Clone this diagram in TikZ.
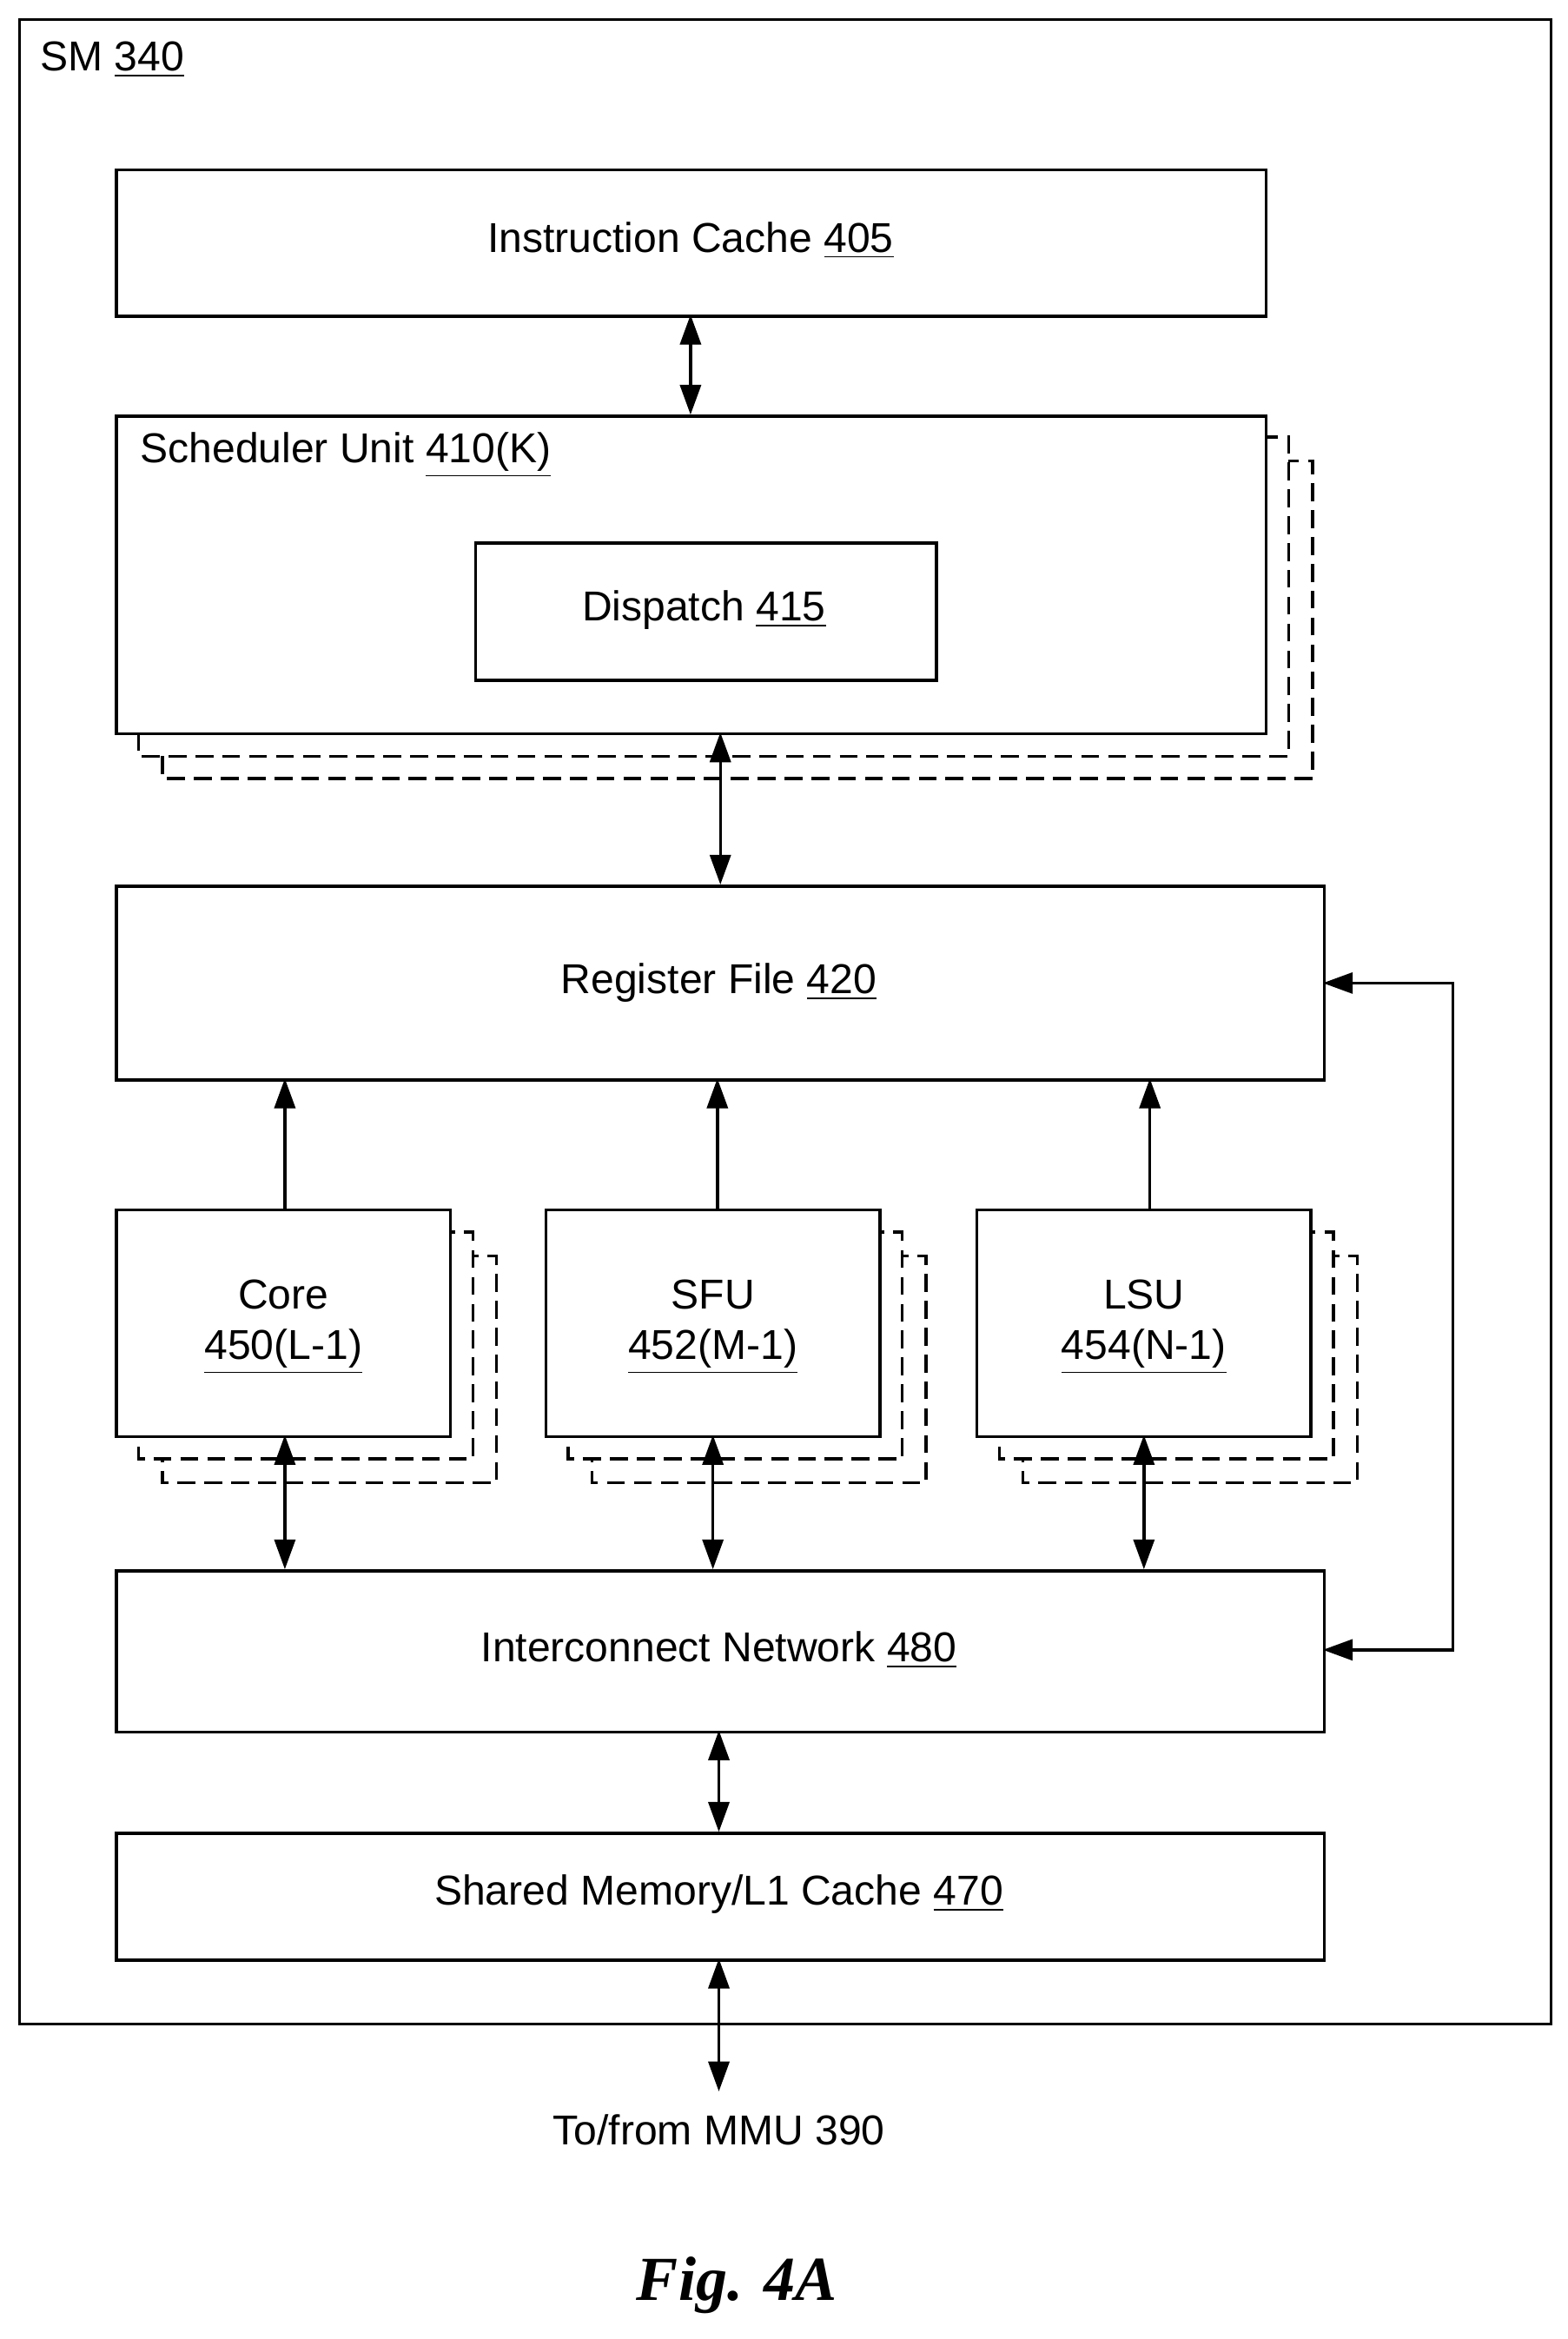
\documentclass[tikz,border=0pt]{standalone}
\usepackage{fontspec}
\setmainfont{Liberation Sans}
\newfontfamily\figfont{Liberation Serif}
\usetikzlibrary{arrows.meta}
\begin{document}
\begin{tikzpicture}[x=0.5pt,y=-0.5pt,
  box/.style={draw,line width=1pt,fill=white},
  shadow/.style={draw,line width=1pt,dashed,dash pattern=on 6pt off 3pt,fill=white},
  lbl/.style={font=\fontsize{14}{17}\selectfont,align=center},
  arr/.style={line width=1pt,{Triangle[length=10pt,width=7pt]}-{Triangle[length=10pt,width=7pt]}},
  uarr/.style={line width=1pt,-{Triangle[length=10pt,width=7pt]}}]
\useasboundingbox (0,0) rectangle (1051,1568);
% outer
\draw[line width=1pt] (13,13) rectangle (1040,1357);
\node[lbl,anchor=west] (sm) at (20,40) {SM \underline{340}};
% instruction cache
\node[box,minimum width=385.5pt,minimum height=49pt,anchor=north west,inner sep=0pt] (ic) at (77,113) {};
\node[lbl] (ict) at (463,161) {Instruction Cache \underline{405}};
% scheduler
\draw[shadow] (109,309) rectangle (880,522);
\draw[shadow] (93,293) rectangle (864,507);
\node[box,minimum width=385.5pt,minimum height=106.5pt,anchor=north west,inner sep=0pt] (sch) at (77,278) {};
\node[lbl,anchor=west] (scht) at (87,305) {Scheduler Unit \underline{410(K)}};
\node[box,minimum width=154.5pt,minimum height=46pt,anchor=north west,inner sep=0pt] (dis) at (318,363) {};
\node[lbl] (dist) at (472,409) {Dispatch \underline{415}};
% register file
\node[box,minimum width=405pt,minimum height=65pt,anchor=north west,inner sep=0pt] (rf) at (77,593) {};
\node[lbl] (rft) at (482,659) {Register File \underline{420}};
% units
\foreach \x/\n/\a/\b in {77/core/Core/450(L-1),365/sfu/SFU/452(M-1),654/lsu/LSU/454(N-1)}{
  \draw[shadow] (\x+32,842) rectangle (\x+256,994);
  \draw[shadow] (\x+16,826) rectangle (\x+240,978);
  \node[box,minimum width=112pt,minimum height=76pt,anchor=north west,inner sep=0pt] (\n) at (\x,810) {};
  \node[lbl] at (\x+113,868) {\a};
  \node[lbl] at (\x+113,906) {\underline{\b}};
}
% interconnect
\node[box,minimum width=405pt,minimum height=54pt,anchor=north west,inner sep=0pt] (in) at (77,1052) {};
\node[lbl] (int) at (482,1106) {Interconnect Network \underline{480}};
% shared
\node[box,minimum width=405pt,minimum height=42.5pt,anchor=north west,inner sep=0pt] (sh) at (77,1228) {};
\node[lbl] (sht) at (482,1270) {Shared Memory/L1 Cache \underline{470}};
\coordinate (mmu) at (482,1402);
\node[lbl] (mmut) at (482,1428) {To/from MMU 390};
\node[font=\figfont\bfseries\itshape\fontsize{21}{25}\selectfont] (fig) at (494,1532) {Fig. 4A};
% arrows
\draw[arr] (463,211) -- (463,278);
\draw[arr] (483,491) -- (483,593);
\draw[uarr] (191,810) -- (191,723);
\draw[uarr] (481,810) -- (481,723);
\draw[uarr] (771,810) -- (771,723);
\draw[arr] (191,962) -- (191,1052);
\draw[arr] (478,962) -- (478,1052);
\draw[arr] (767,962) -- (767,1052);
\draw[arr] (482,1160) -- (482,1228);
\draw[arr] (482,1313) -- (mmu);
\draw[arr] (887,1106) -- (974,1106) -- (974,659) -- (887,659);
\end{tikzpicture}
\end{document}
